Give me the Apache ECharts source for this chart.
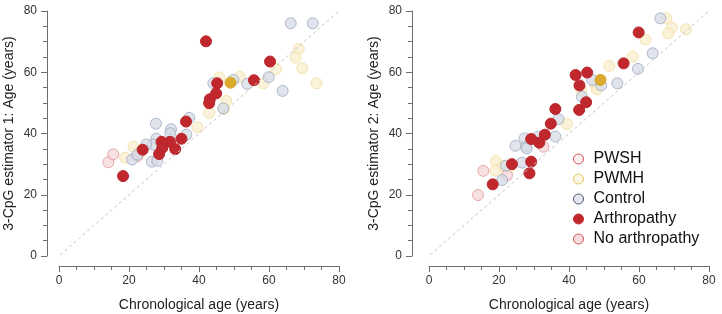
<!DOCTYPE html>
<html>
<head>
  <meta charset="utf-8">
  <title>3-CpG estimators</title>
  <script src="https://cdn.jsdelivr.net/npm/echarts@6/dist/echarts.min.js"></script>
  <style>
    body { margin: 0; background-color: white }
  </style>
</head>
<body>
  <div id="main" style="width: 722px; height: 314px;"></div>
  <script type="text/javascript">

    // [chronological age, estimated age] per panel
    // panel 1: estimator 1
    var arthro1 = [[42.0, 70.1], [60.3, 63.5], [55.7, 57.4], [45.2, 56.4], [44.9, 53.1],
      [43.1, 51.2], [42.9, 49.9], [36.3, 43.9], [35.0, 38.3], [33.2, 34.9], [31.7, 37.3],
      [29.3, 37.3], [29.5, 35.3], [28.6, 33.3], [23.9, 34.7], [18.3, 26.1]];
    var control1 = [[66.2, 76.0], [72.5, 76.0], [59.9, 58.4], [63.9, 53.9], [53.8, 56.2],
      [49.8, 57.5], [44.1, 56.4], [46.9, 48.2], [37.2, 45.1], [36.4, 39.6], [32.0, 41.4],
      [31.8, 40.1], [27.7, 43.2], [27.8, 38.3], [26.9, 36.4], [24.9, 36.4], [26.5, 30.8],
      [28.1, 31.1], [20.9, 31.5], [22.4, 33.1]];
    var pwmh1 = [[68.5, 67.6], [67.6, 64.8], [69.5, 61.3], [73.6, 56.4], [62.0, 61.0],
      [58.4, 56.4], [51.7, 58.5], [45.8, 58.3], [47.8, 50.6], [47.1, 48.0], [42.9, 46.7],
      [39.6, 42.0], [21.3, 35.7], [18.9, 32.1], [23.0, 33.5]];
    var pwsh1 = [[14.1, 30.6], [15.5, 33.2], [22.4, 32.6], [32.7, 37.0]];
    var pwmhArthro1 = [[49.0, 56.6]];

    // panel 2: estimator 2
    var arthro2 = [[59.9, 73.0], [55.6, 62.9], [45.2, 59.9], [41.9, 59.1], [43.0, 55.7],
      [44.9, 50.2], [42.9, 47.7], [36.1, 48.0], [34.8, 43.2], [33.1, 39.6], [31.5, 37.0],
      [29.2, 38.2], [29.2, 30.8], [28.7, 27.0], [23.7, 30.0], [18.2, 23.4]];
    var control2 = [[72.3, 81.2], [66.1, 77.6], [63.9, 66.2], [59.7, 61.1], [53.8, 56.4],
      [49.2, 55.7], [46.6, 57.5], [43.7, 52.0], [37.0, 44.7], [36.1, 39.0], [31.3, 39.0],
      [27.3, 38.4], [27.7, 35.7], [27.9, 35.1], [24.7, 36.0], [26.6, 30.5], [22.0, 29.5],
      [20.9, 24.8]];
    var pwmh2 = [[67.8, 77.6], [69.4, 74.6], [68.3, 72.7], [73.4, 74.0], [61.8, 70.7],
      [58.2, 65.1], [51.5, 62.1], [47.5, 55.8], [48.0, 54.4], [43.5, 54.2], [39.4, 43.1],
      [19.1, 31.0], [19.0, 27.9], [21.3, 29.4], [23.0, 28.8]];
    var pwsh2 = [[14.0, 19.9], [15.5, 27.8], [22.3, 26.3], [32.7, 35.7]];
    var pwmhArthro2 = [[49.0, 57.5]];

    var identityLine = [[-3.5, -3.5], [84, 84]];
    var groups = ['PWSH', 'PWMH', 'Control', 'Arthropathy', 'No arthropathy'];
    var xName = 'Chronological age (years)';
    var yNames = ['3-CpG estimator 1: Age (years)', '3-CpG estimator 2: Age (years)'];

    var FONT = 'Liberation Sans, Arial, sans-serif';
    var AXIS_COLOR = '#6e6e6e';

    var styles = {
      'PWSH': { color: 'rgba(244,214,216,0.75)', borderColor: 'rgba(226,150,155,0.8)' },
      'PWMH': { color: 'rgba(250,238,205,0.75)', borderColor: 'rgba(240,220,160,0.8)' },
      'Control': { color: 'rgba(214,219,230,0.75)', borderColor: 'rgba(160,170,192,0.8)' },
      'Arthropathy': { color: '#c0282d', borderColor: '#b8262b' },
      'No arthropathy': { color: 'rgba(244,214,216,0.75)', borderColor: 'rgba(226,150,155,0.8)' }
    };

    function makeAxes(i, yOffset) {
      var xa = {
        type: 'value', gridIndex: i, min: 0, max: 80, interval: 20, offset: 10,
        name: xName, nameLocation: 'middle', nameGap: 32,
        nameTextStyle: { fontFamily: FONT, fontSize: 14, color: '#222' },
        axisLine: { show: true, onZero: false, lineStyle: { color: AXIS_COLOR } },
        axisTick: { show: true, length: 6, lineStyle: { color: AXIS_COLOR } },
        minorTick: { show: true, splitNumber: 4, length: 4, lineStyle: { color: AXIS_COLOR } },
        axisLabel: { fontFamily: FONT, fontSize: 12, color: '#333', margin: 9 },
        splitLine: { show: false }
      };
      var ya = {
        type: 'value', gridIndex: i, min: 0, max: 80, interval: 20, offset: yOffset,
        name: yNames[i], nameLocation: 'middle', nameGap: 31,
        nameTextStyle: { fontFamily: FONT, fontSize: 14, color: '#222' },
        axisLine: { show: true, onZero: false, lineStyle: { color: AXIS_COLOR } },
        axisTick: { show: true, length: 6, lineStyle: { color: AXIS_COLOR } },
        minorTick: { show: true, splitNumber: 4, length: 4, lineStyle: { color: AXIS_COLOR } },
        axisLabel: { fontFamily: FONT, fontSize: 12, color: '#333', margin: 10 },
        splitLine: { show: false }
      };
      return { x: xa, y: ya };
    }

    function scatter(name, data, i, style) {
      return {
        type: 'scatter', name: name, data: data, xAxisIndex: i, yAxisIndex: i,
        symbolSize: 11, itemStyle: Object.assign({ borderWidth: 1, opacity: 1 }, style),
        emphasis: { disabled: true }
      };
    }

    function panelSeries(i, pwsh, pwmh, ctrl, arth, pa) {
      return [
        { type: 'line', data: identityLine, xAxisIndex: i, yAxisIndex: i, symbol: 'none',
          clip: false, silent: true,
          lineStyle: { color: '#c4c4c4', width: 1, type: [3, 3] } },
        scatter('PWMH', pwmh, i, styles['PWMH']),
        scatter('PWSH', pwsh, i, styles['PWSH']),
        scatter('Control', ctrl, i, styles['Control']),
        scatter('No arthropathy', [], i, styles['No arthropathy']),
        scatter('Arthropathy', arth, i, styles['Arthropathy']),
        scatter('PWMH with arthropathy', pa, i, { color: '#dcab2e', borderColor: '#d4a428' })
      ];
    }

    var a1 = makeAxes(0, 12);
    var a2 = makeAxes(1, 17);

    var legendIcons = {
      'PWSH': { color: '#fbeeee', borderColor: '#d4555b', borderWidth: 1, opacity: 1 },
      'PWMH': { color: '#fdf7e6', borderColor: '#e6c35c', borderWidth: 1, opacity: 1 },
      'Control': { color: '#e4e7ef', borderColor: '#4e5670', borderWidth: 1, opacity: 1 },
      'Arthropathy': { color: '#c0282d', borderColor: '#c0282d', borderWidth: 1, opacity: 1 },
      'No arthropathy': { color: '#f6dcdc', borderColor: '#d4555b', borderWidth: 1, opacity: 1 }
    };

    var chart = echarts.init(document.getElementById('main'), null, { renderer: 'canvas' });
    var option = {
      animation: false,
      backgroundColor: '#ffffff',
      grid: [
        { left: 59, top: 11, width: 280, height: 245, outerBoundsMode: 'none' },
        { left: 429, top: 11, width: 280, height: 245, outerBoundsMode: 'none' }
      ],
      xAxis: [a1.x, a2.x],
      yAxis: [a1.y, a2.y],
      legend: {
        orient: 'vertical', left: 568, top: 146,
        itemWidth: 10, itemHeight: 10, itemGap: 4,
        icon: 'circle',
        textStyle: { fontFamily: FONT, fontSize: 16, color: '#111', lineHeight: 16,
          padding: [0, 0, 0, 5] },
        data: groups.map(function (g) { return { name: g, itemStyle: legendIcons[g] }; })
      },
      series: panelSeries(0, pwsh1, pwmh1, control1, arthro1, pwmhArthro1)
        .concat(panelSeries(1, pwsh2, pwmh2, control2, arthro2, pwmhArthro2))
    };
    chart.setOption(option);
  </script>
</body>
</html>
